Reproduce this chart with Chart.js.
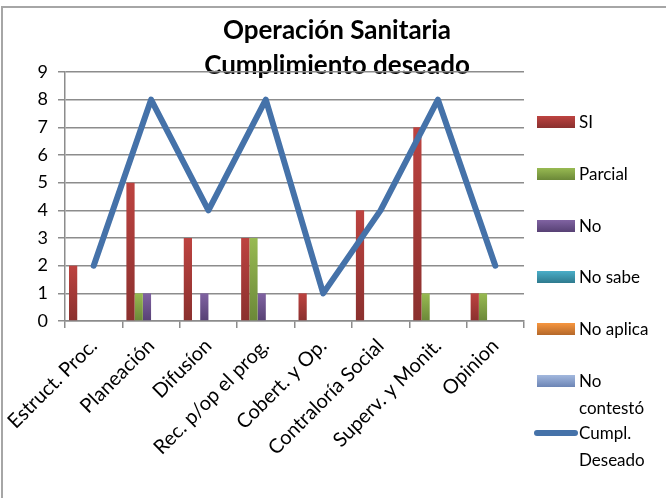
<!DOCTYPE html>
<html>
<head>
<meta charset="utf-8">
<script src="https://cdn.jsdelivr.net/npm/chart.js@4/dist/chart.umd.min.js"></script>
<style>
  html, body { margin: 0; padding: 0; background: #ffffff; }
  #wrap { position: relative; width: 666px; height: 498px; overflow: hidden; }
  #frame { position: absolute; left: 1px; top: 6px; right: -4px; bottom: -4px;
           border-top: 2px solid #a6a6a6; border-left: 2px solid #a6a6a6; }
  #c { position: absolute; left: 0; top: 0; }
  #legend { position: absolute; left: 534px; top: 108px; font-family: Lato, 'Open Sans', sans-serif;
            font-size: 17px; color: #000; }
  .item { position: relative; height: 51.8px; }
  .sw { position: absolute; left: 3px; top: 8px; width: 38px; height: 12px; }
  .ln { position: absolute; left: 0px; top: 11px; width: 44px; height: 6px; border-radius: 3px; }
  .tx { position: absolute; left: 45px; top: 0; width: 80px; line-height: 27px; }
</style>
</head>
<body>
<div id="wrap">
  <div id="frame"></div>
  <canvas id="c" width="666" height="498"></canvas>
  <div id="legend"></div>
</div>
<script>
const titleLines = ['Operación Sanitaria', 'Cumplimiento deseado'];
const categories = ['Estruct. Proc.', 'Planeación', 'Difusíon', 'Rec. p/op el prog.', 'Cobert. y Op.', 'Contraloría Social', 'Superv. y Monit.', 'Opinion'];
const seriesNames = ['SI', 'Parcial', 'No', 'No sabe', 'No aplica', 'No contestó'];
const siValues        = [2, 5, 3, 3, 1, 4, 7, 1];
const parcialValues   = [0, 1, 0, 3, 0, 0, 1, 1];
const noValues        = [0, 1, 1, 1, 0, 0, 0, 0];
const noSabeValues    = [0, 0, 0, 0, 0, 0, 0, 0];
const noAplicaValues  = [0, 0, 0, 0, 0, 0, 0, 0];
const noContestoValues= [0, 0, 0, 0, 0, 0, 0, 0];
const lineName = 'Cumpl. Deseado';
const deseadoValues   = [2, 8, 4, 8, 1, 4, 8, 2];
const yTicks = [0, 1, 2, 3, 4, 5, 6, 7, 8, 9];

const barValues = [siValues, parcialValues, noValues, noSabeValues, noAplicaValues, noContestoValues];
const barColors = [
  ['#bd4340', '#8a302e'],
  ['#98ba52', '#6b8838'],
  ['#8063a2', '#574174'],
  ['#4aaec8', '#2e7a8e'],
  ['#f7963f', '#b5682a'],
  ['#a2b8de', '#6c85b5']
];
const lineColor = '#4572a9';
const FONT = "Lato, 'Open Sans', sans-serif";

function barGradient(idx) {
  return function(ctx) {
    const chart = ctx.chart;
    const ys = chart.scales.y;
    if (!chart.chartArea || !ys || ctx.raw === undefined) return barColors[idx][0];
    const top = ys.getPixelForValue(ctx.raw);
    const bot = ys.getPixelForValue(0);
    if (!isFinite(top) || !isFinite(bot) || bot - top < 1) return barColors[idx][1];
    const g = chart.ctx.createLinearGradient(0, top, 0, bot);
    g.addColorStop(0, barColors[idx][0]);
    g.addColorStop(1, barColors[idx][1]);
    return g;
  };
}

const datasets = [{
  type: 'line',
  label: lineName,
  data: deseadoValues,
  borderColor: lineColor,
  backgroundColor: lineColor,
  borderWidth: 6,
  borderCapStyle: 'round',
  borderJoinStyle: 'round',
  pointRadius: 0,
  tension: 0,
  fill: false,
  order: 0
}];
seriesNames.forEach((name, i) => {
  datasets.push({
    type: 'bar',
    label: name,
    data: barValues[i],
    backgroundColor: barGradient(i),
    legendColor: barColors[i],
    borderWidth: 0,
    categoryPercentage: 0.86,
    barPercentage: 1.0,
    order: 1
  });
});

const titlePlugin = {
  id: 'titleBehind',
  beforeDraw(chart) {
    const c = chart.ctx;
    c.save();
    c.fillStyle = '#000';
    c.font = 'bold 26px ' + FONT;
    c.textAlign = 'center';
    c.textBaseline = 'middle';
    c.fillText(titleLines[0], 337, 31);
    c.fillText(titleLines[1], 337, 66);
    c.restore();
  }
};

const chart = new Chart(document.getElementById('c'), {
  data: { labels: categories, datasets: datasets },
  plugins: [titlePlugin],
  options: {
    responsive: false,
    animation: false,
    layout: { padding: { left: 0, top: 72, right: 142, bottom: 0 } },
    plugins: {
      legend: { display: false },
      title: { display: false },
      tooltip: { enabled: false }
    },
    scales: {
      x: {
        offset: true,
        afterFit(scale) { scale.height = 177; },
        grid: { offset: true, drawOnChartArea: false, drawTicks: true, tickLength: 7, color: '#8c8c8c', lineWidth: 1.5 },
        border: { display: true, color: '#8c8c8c', width: 1.5 },
        ticks: { color: '#000', font: { family: FONT, size: 20 }, minRotation: 45, maxRotation: 45, autoSkip: false, padding: 6 }
      },
      y: {
        min: 0, max: 9,
        afterFit(scale) { scale.width = 65; },
        afterBuildTicks(scale) { scale.ticks = yTicks.map(v => ({ value: v })); },
        grid: { color: '#8c8c8c', lineWidth: 1.5, tickLength: 7, drawTicks: true },
        border: { display: true, color: '#8c8c8c', width: 1.5 },
        ticks: { color: '#000', font: { family: FONT, size: 18 }, padding: 10, stepSize: 1 }
      }
    }
  }
});

// HTML legend built from the chart's datasets (bars first, then the line)
const legendEl = document.getElementById('legend');
const ordered = chart.data.datasets.filter(d => d.type === 'bar').concat(chart.data.datasets.filter(d => d.type === 'line'));
ordered.forEach(ds => {
  const item = document.createElement('div');
  item.className = 'item';
  const sw = document.createElement('div');
  if (ds.type === 'bar') {
    sw.className = 'sw';
    sw.style.background = 'linear-gradient(' + ds.legendColor[0] + ',' + ds.legendColor[1] + ')';
  } else {
    sw.className = 'ln';
    sw.style.background = ds.borderColor;
  }
  const tx = document.createElement('div');
  tx.className = 'tx';
  tx.textContent = ds.label;
  item.appendChild(sw);
  item.appendChild(tx);
  legendEl.appendChild(item);
});
</script>
</body>
</html>
